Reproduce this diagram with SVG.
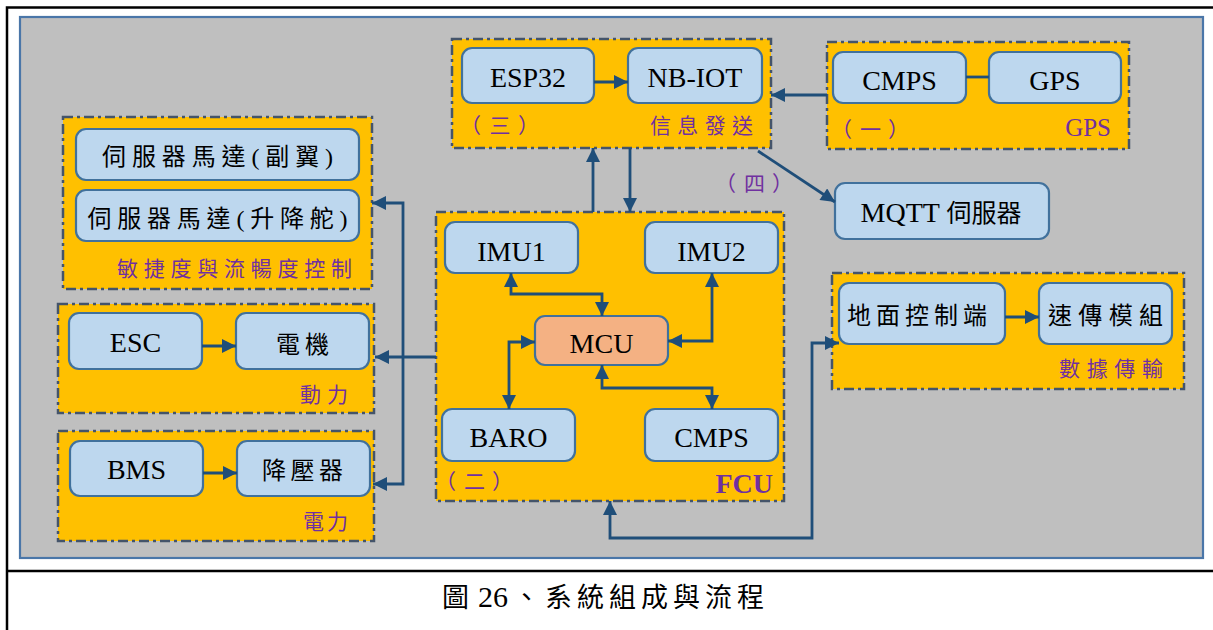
<svg xmlns="http://www.w3.org/2000/svg" width="1213" height="630" viewBox="0 0 1213 630">
  <style>
    .grp { fill: #FFC000; stroke: #44546A; stroke-width: 2.5; stroke-dasharray: 10 4 3 4; }
    .box { fill: #BDD7EE; stroke: #41719C; stroke-width: 2.2; }
    .mcu { fill: #F4B183; stroke: #41719C; stroke-width: 2.2; }
    .t { font-family: "Liberation Serif", "Noto Sans CJK TC", serif; font-size: 28px; fill: #000; text-anchor: middle; }
    .tc { font-family: "Liberation Serif", "Noto Sans CJK TC", serif; font-size: 24px; fill: #000; text-anchor: middle; }
    .lbl { font-family: "Liberation Serif", "Noto Sans CJK TC", serif; font-size: 21px; fill: #7030A0; }
    .cap { font-family: "Liberation Serif", "Noto Sans CJK TC", serif; font-size: 27px; fill: #000; }
    .wire { fill: none; stroke: #1F4E79; stroke-width: 2.8; }
  </style>
  <defs>
    <marker id="ah" viewBox="0 0 10 10" refX="10" refY="5" markerWidth="15" markerHeight="14" markerUnits="userSpaceOnUse" orient="auto-start-reverse">
      <path d="M0,0 L10,5 L0,10 z" fill="#1F4E79"/>
    </marker>
  </defs>

  <!-- page frame -->
  <rect x="0" y="0" width="1213" height="630" fill="#FFFFFF"/>
  <path d="M7,630 V7.5 H1213" fill="none" stroke="#000" stroke-width="2.5"/>
  <path d="M7,571 H1213" fill="none" stroke="#000" stroke-width="2.5"/>

  <!-- diagram panel -->
  <rect x="20" y="17" width="1183" height="541" fill="#BFBFBF" stroke="#4A76A8" stroke-width="2.2"/>

  <!-- control surfaces -->
  <g id="grp-agility">
    <rect class="grp" x="63" y="117" width="309" height="172"/>
    <text class="lbl" x="117" y="276" textLength="235" lengthAdjust="spacing">敏捷度與流暢度控制</text>
  </g>
  <g id="node-aileron">
    <rect class="box" x="76" y="129" width="283" height="51" rx="10"/>
    <text class="tc" x="217.5" y="165" textLength="231" lengthAdjust="spacing">伺服器馬達(副翼)</text>
  </g>
  <g id="node-elevator">
    <rect class="box" x="76" y="190" width="283" height="51" rx="10"/>
    <text class="tc" x="217.5" y="227" textLength="260" lengthAdjust="spacing">伺服器馬達(升降舵)</text>
  </g>

  <!-- propulsion -->
  <g id="grp-power">
    <rect class="grp" x="58" y="304" width="316" height="109"/>
    <text class="lbl" x="300" y="402" textLength="48" lengthAdjust="spacing">動力</text>
  </g>
  <g id="node-esc">
    <rect class="box" x="69" y="313" width="133" height="56" rx="10"/>
    <text class="t" x="135.5" y="352">ESC</text>
  </g>
  <g id="node-motor">
    <rect class="box" x="236" y="313" width="133" height="56" rx="10"/>
    <text class="tc" x="302.5" y="353" textLength="53" lengthAdjust="spacing">電機</text>
  </g>

  <!-- electrical supply -->
  <g id="grp-electric">
    <rect class="grp" x="58" y="431" width="316" height="110"/>
    <text class="lbl" x="303" y="529" textLength="45" lengthAdjust="spacing">電力</text>
  </g>
  <g id="node-bms">
    <rect class="box" x="70" y="441" width="133" height="55" rx="10"/>
    <text class="t" x="136.5" y="479">BMS</text>
  </g>
  <g id="node-buck">
    <rect class="box" x="237" y="441" width="133" height="55" rx="10"/>
    <text class="tc" x="302.5" y="479" textLength="81" lengthAdjust="spacing">降壓器</text>
  </g>

  <!-- flight control unit -->
  <g id="grp-fcu">
    <rect class="grp" x="436" y="212" width="348" height="289"/>
    <text class="lbl" y="489"><tspan x="435">（</tspan><tspan x="464">二</tspan><tspan x="492">）</tspan></text>
    <text x="773" y="493" text-anchor="end" font-family="Liberation Serif, serif" font-weight="bold" font-size="28" fill="#7030A0">FCU</text>
  </g>
  <g id="node-imu1">
    <rect class="box" x="445" y="222" width="133" height="51" rx="10"/>
    <text class="t" x="511.5" y="261">IMU1</text>
  </g>
  <g id="node-imu2">
    <rect class="box" x="645" y="222" width="133" height="51" rx="10"/>
    <text class="t" x="711.5" y="261">IMU2</text>
  </g>
  <g id="node-mcu">
    <rect class="mcu" x="535" y="316" width="133" height="49" rx="10"/>
    <text class="t" x="601.5" y="353">MCU</text>
  </g>
  <g id="node-baro">
    <rect class="box" x="442" y="409" width="133" height="52" rx="10"/>
    <text class="t" x="508.5" y="447">BARO</text>
  </g>
  <g id="node-cmps-fcu">
    <rect class="box" x="645" y="409" width="133" height="52" rx="10"/>
    <text class="t" x="711.5" y="447">CMPS</text>
  </g>

  <!-- messaging -->
  <g id="grp-info">
    <rect class="grp" x="452" y="39" width="319" height="109"/>
    <text class="lbl" y="133"><tspan x="460">（</tspan><tspan x="489.5">三</tspan><tspan x="518">）</tspan></text>
    <text class="lbl" x="650" y="133" textLength="103" lengthAdjust="spacing">信息發送</text>
  </g>
  <g id="node-esp32">
    <rect class="box" x="462" y="48" width="132" height="55" rx="10"/>
    <text class="t" x="528" y="87">ESP32</text>
  </g>
  <g id="node-nbiot">
    <rect class="box" x="628" y="48" width="134" height="55" rx="10"/>
    <text class="t" x="695" y="87">NB-IOT</text>
  </g>

  <!-- positioning -->
  <g id="grp-gps">
    <rect class="grp" x="827" y="42" width="302" height="107"/>
    <text class="lbl" y="137"><tspan x="831">（</tspan><tspan x="860">一</tspan><tspan x="888">）</tspan></text>
    <text x="1111" y="136" text-anchor="end" font-family="Liberation Serif, serif" font-size="25" fill="#7030A0">GPS</text>
  </g>
  <g id="node-cmps-gps">
    <rect class="box" x="833" y="52" width="133" height="51" rx="10"/>
    <text class="t" x="899.5" y="90">CMPS</text>
  </g>
  <g id="node-gps">
    <rect class="box" x="989" y="52" width="132" height="51" rx="10"/>
    <text class="t" x="1055" y="90">GPS</text>
  </g>

  <!-- broker -->
  <g id="node-mqtt">
    <rect class="box" x="835" y="183" width="214" height="56" rx="10"/>
    <text class="t" x="941" y="222">MQTT <tspan font-size="25">伺服器</tspan></text>
  </g>
  <g id="label-four">
    <text class="lbl" y="191"><tspan x="715">（</tspan><tspan x="744">四</tspan><tspan x="772">）</tspan></text>
  </g>

  <!-- ground link -->
  <g id="grp-data">
    <rect class="grp" x="832" y="273" width="352" height="116"/>
    <text class="lbl" x="1059" y="376" textLength="104" lengthAdjust="spacing">數據傳輸</text>
  </g>
  <g id="node-ground">
    <rect class="box" x="839" y="283" width="166" height="61" rx="10"/>
    <text class="tc" x="917" y="324" textLength="140" lengthAdjust="spacing">地面控制端</text>
  </g>
  <g id="node-radio">
    <rect class="box" x="1039" y="283" width="133" height="61" rx="10"/>
    <text class="tc" x="1105.5" y="324" textLength="115" lengthAdjust="spacing">速傳模組</text>
  </g>

  <!-- connectors -->
  <g id="connectors">
    <path class="wire" d="M594,82 H628" marker-end="url(#ah)"/>
    <path class="wire" d="M202,346 H236" marker-end="url(#ah)"/>
    <path class="wire" d="M203,473 H237" marker-end="url(#ah)"/>
    <path class="wire" d="M1005,317 H1039" marker-end="url(#ah)"/>
    <path class="wire" d="M827,95 H771" marker-end="url(#ah)"/>
    <path class="wire" d="M966,77 H989" stroke-width="4"/>
    <path class="wire" d="M758,151 L835,202" marker-end="url(#ah)"/>
    <path class="wire" d="M593,212 V148" marker-end="url(#ah)"/>
    <path class="wire" d="M630,148 V212" marker-end="url(#ah)"/>
    <path class="wire" d="M372,203 H403 V484 H373" marker-start="url(#ah)" marker-end="url(#ah)"/>
    <path class="wire" d="M436,357 H375" marker-end="url(#ah)"/>
    <path class="wire" d="M511,273 V294 H602 V316" marker-start="url(#ah)" marker-end="url(#ah)"/>
    <path class="wire" d="M712,273 V341 H668" marker-start="url(#ah)" marker-end="url(#ah)"/>
    <path class="wire" d="M535,342 H509 V409" marker-start="url(#ah)" marker-end="url(#ah)"/>
    <path class="wire" d="M602,365 V388 H712 V409" marker-start="url(#ah)" marker-end="url(#ah)"/>
    <path class="wire" d="M610,501 V538 H812 V343 H839" marker-start="url(#ah)" marker-end="url(#ah)"/>
  </g>

  <!-- caption -->
  <text class="cap" y="607"><tspan x="442">圖</tspan><tspan x="478" font-size="30">26</tspan><tspan x="513">、</tspan><tspan x="545" letter-spacing="5">系統組成與流程</tspan></text>
</svg>
